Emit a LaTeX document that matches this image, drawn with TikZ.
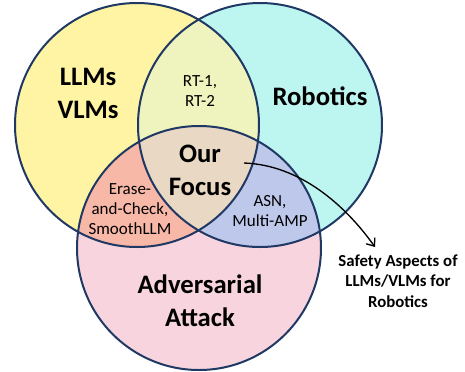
\documentclass[tikz,border=0pt]{standalone}
\usepackage{fontspec}
\setmainfont{Carlito}
\usetikzlibrary{arrows.meta}

\definecolor{llmyellow}{RGB}{255,244,163}
\definecolor{robocyan}{RGB}{189,245,240}
\definecolor{attackpink}{RGB}{248,213,222}
\definecolor{rtgreen}{RGB}{239,243,189}
\definecolor{ecsalmon}{RGB}{248,184,168}
\definecolor{asnlilac}{RGB}{189,200,234}
\definecolor{focustan}{RGB}{232,216,196}
\definecolor{ringnavy}{RGB}{31,56,100}

\begin{document}
\begin{tikzpicture}[x=0.75pt,y=0.75pt,yscale=-1,xscale=1,
    ring/.style={draw=ringnavy,line width=1.5pt},
    biglabel/.style={font=\fontsize{20}{24.75}\selectfont\bfseries,align=center,inner sep=0.75pt},
    smalllabel/.style={font=\fontsize{12.75}{15}\selectfont,align=center,inner sep=0.75pt},
    notelabel/.style={font=\fontsize{12.6}{15.4}\selectfont\bfseries,align=center,inner sep=0.75pt}]
        \useasboundingbox (0,0) rectangle (465,372);

        %Shape: Circle [LLMs]
        \fill [llmyellow] (137,125) circle (122);
        %Shape: Circle [Robotics]
        \fill [robocyan] (260,125) circle (122);
        %Shape: Circle [Attack]
        \fill [attackpink] (199,248) circle (122);

        % overlaps
        \begin{scope}
            \clip (137,125) circle (122);
            \fill [rtgreen] (260,125) circle (122);
            \fill [ecsalmon] (199,248) circle (122);
        \end{scope}
        \begin{scope}
            \clip (260,125) circle (122);
            \fill [asnlilac] (199,248) circle (122);
        \end{scope}
        \begin{scope}
            \clip (137,125) circle (122);
            \clip (260,125) circle (122);
            \fill [focustan] (199,248) circle (122);
        \end{scope}

        % outlines
        \draw [ring] (137,125) circle (122);
        \draw [ring] (260,125) circle (122);
        \draw [ring] (199,248) circle (122);

        % Text Node
        \node [biglabel] (llms) at (88,93) {LLMs\\VLMs};
        % Text Node
        \node [biglabel] (robotics) at (320,96) {Robotics};
        % Text Node
        \node [biglabel] (attack) at (200,301) {Adversarial\\Attack};
        % Text Node
        \node [biglabel] (focus) at (200,170) {Our\\Focus};
        % Text Node
        \node [smalllabel] (rt) at (200,91) {RT-1,\\RT-2};
        % Text Node
        \node [smalllabel] (erase) at (130,209) {Erase-\\and-Check,\\SmoothLLM};
        % Text Node
        \node [smalllabel] (asn) at (270,211) {ASN,\\Multi-AMP};
        % Text Node
        \node [notelabel] (safety) at (398,281) {Safety Aspects of\\LLMs/VLMs for\\Robotics};

        % arrow to the note
        \coordinate (focuspt) at (244,163);
        \coordinate (safetytip) at (375,247);
        \draw [line width=1pt,-{Straight Barb[length=5pt,width=8pt]}] (focuspt) .. controls (300,165) and (345,205) .. (safetytip);
\end{tikzpicture}
\end{document}
